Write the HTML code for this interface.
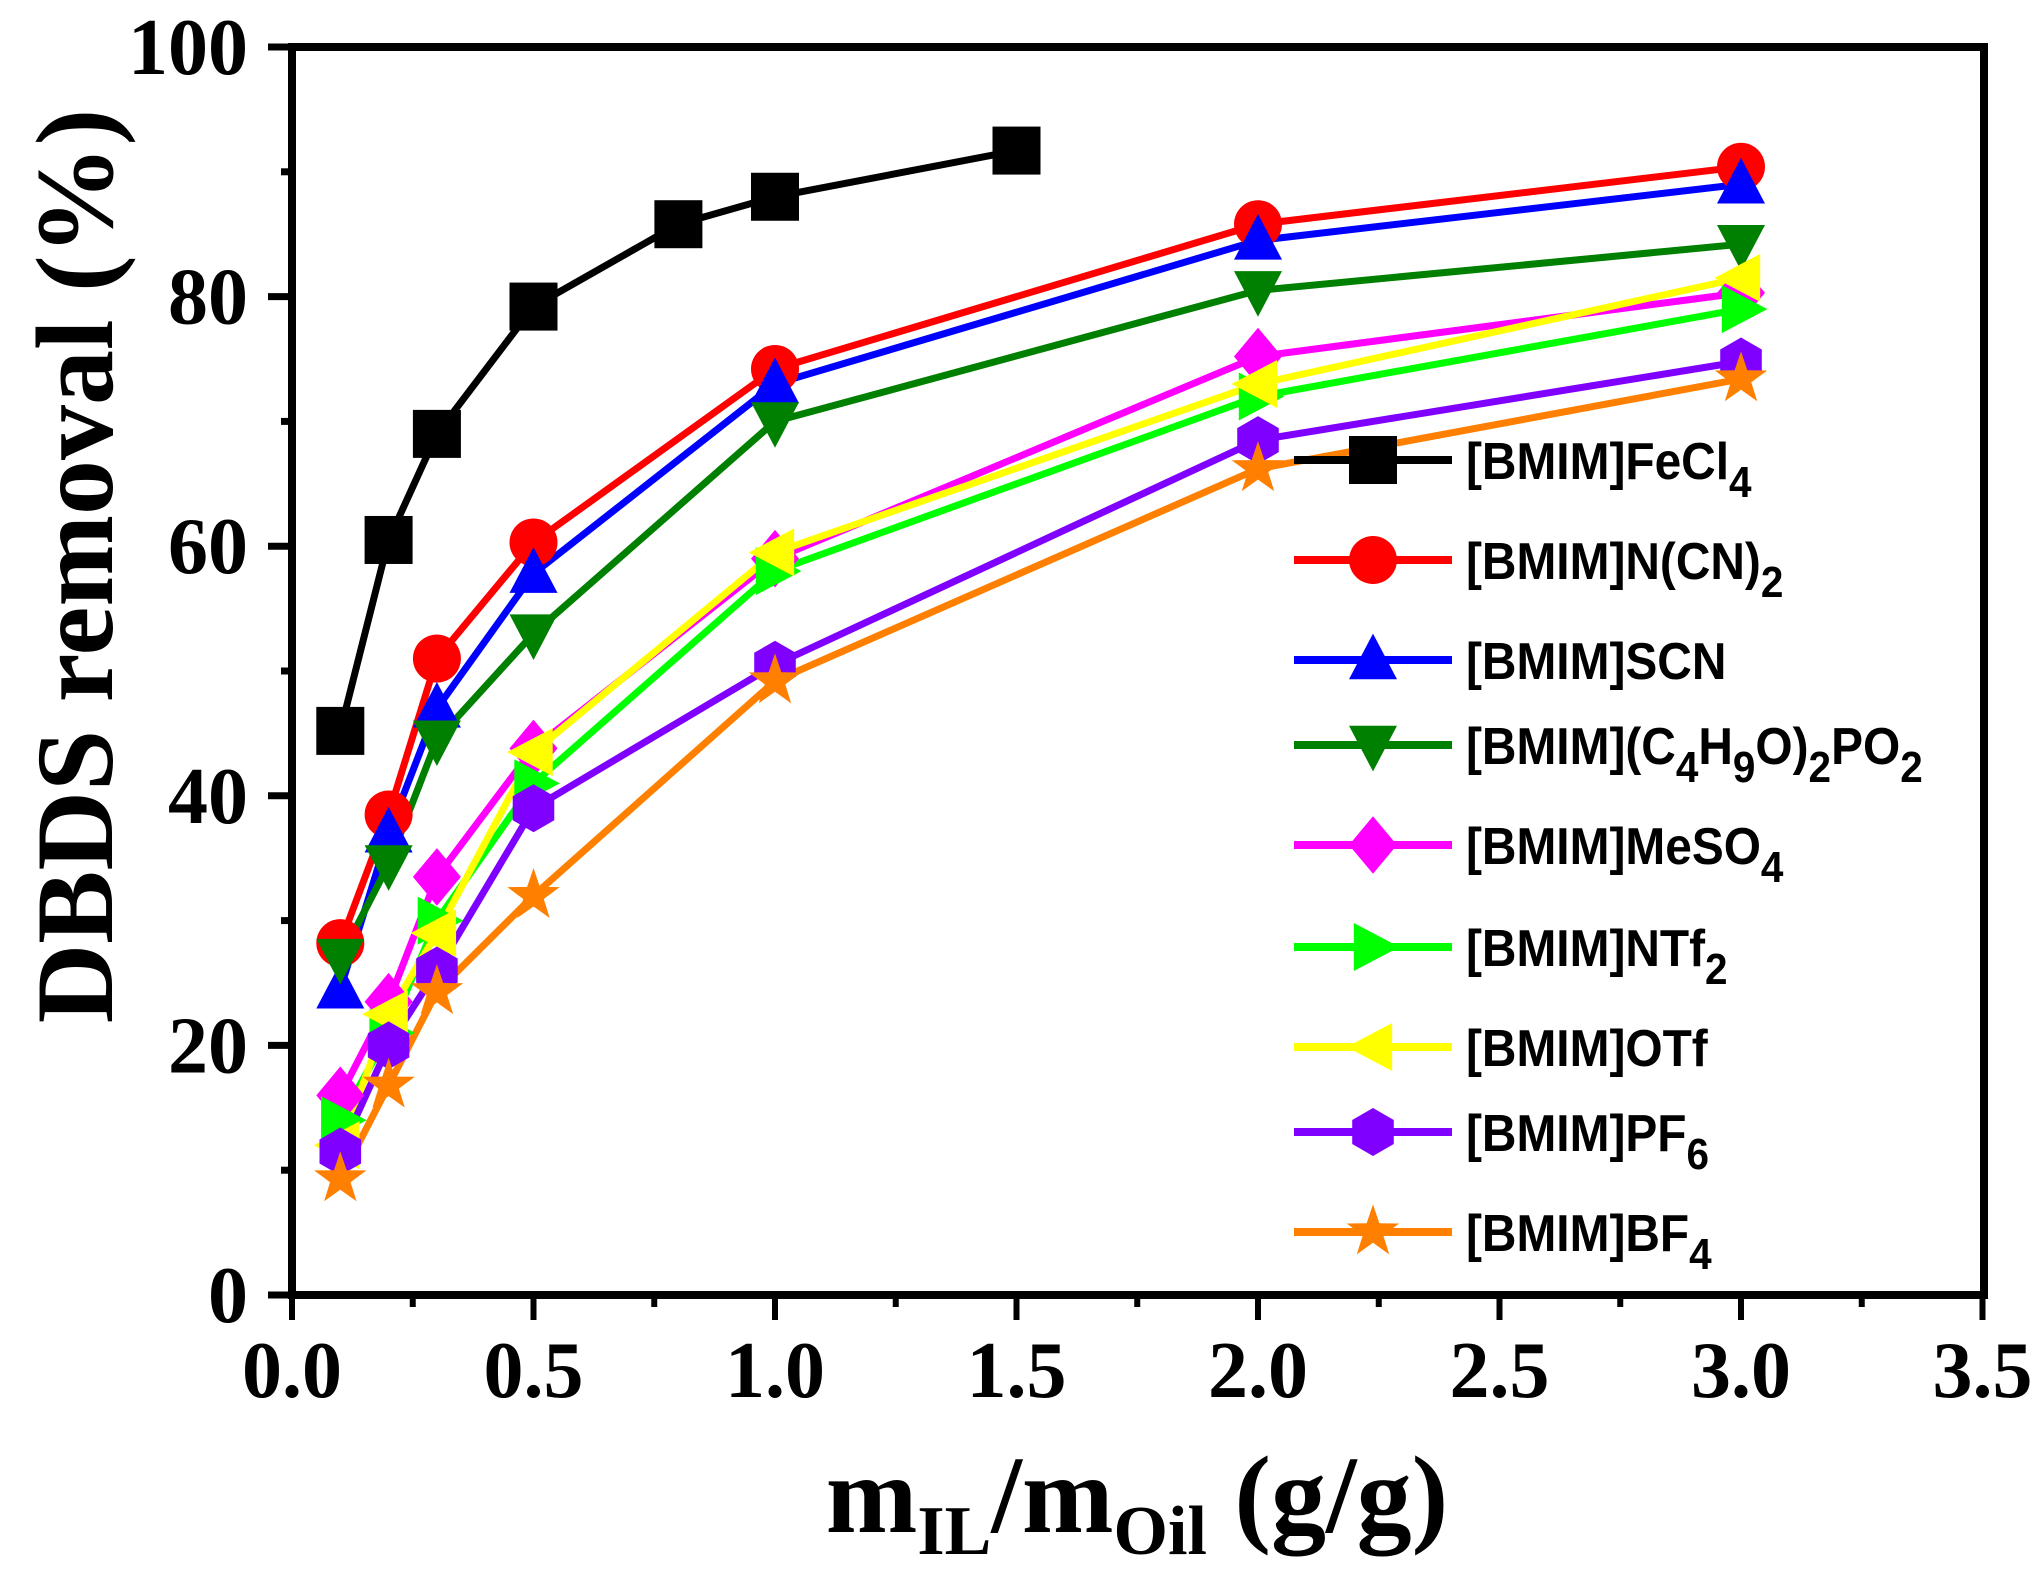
<!DOCTYPE html>
<html><head><meta charset="utf-8"><style>html,body{margin:0;padding:0;background:#fff;}svg{display:block}</style></head>
<body>
<svg id="s" width="2041" height="1590" xmlns="http://www.w3.org/2000/svg"></svg>
<script>
const X0=292,XU=483,Y0=1295,YU=12.48;
const px=x=>X0+x*XU, py=y=>Y0-y*YU;
let o='<rect width="2041" height="1590" fill="#fff"/>';
const xs=[0.1,0.2,0.3,0.5,1,2,3];
const sb=d=>`<tspan dy="18" font-size="44">${d}</tspan>`;
const up=t=>`<tspan dy="-18">${t}</tspan>`;
const S=[
 ['#000','sq',[0.1,0.2,0.3,0.5,0.8,1,1.5],[45.2,60.5,69,79.2,85.8,88,91.7],'[BMIM]FeCl'+sb(4),460],
 ['#f00','ci',xs,[28.2,38.5,51,60.3,74.2,85.8,90.4],'[BMIM]N(CN)'+sb(2),560],
 ['#00f','tu',xs,[24.5,37,47,57.8,73,84.5,89],'[BMIM]SCN',660],
 ['#008000','td',xs,[27,34.5,44.5,53,70,80.5,84.2],'[BMIM](C'+sb(4)+up('H')+sb(9)+up('O)')+sb(2)+up('PO')+sb(2),745],
 ['#f0f','di',xs,[16,23.5,33.5,43.8,59,75.2,80.3],'[BMIM]MeSO'+sb(4),845],
 ['#0f0','tr',xs,[14,21,30,41,58,72,79],'[BMIM]NTf'+sb(2),947],
 ['#ff0','tl',xs,[12,22.5,29,43.5,59.5,73,81.5],'[BMIM]OTf',1047],
 ['#8000ff','hx',xs,[11.5,20,26,39,50.5,68.5,74.8],'[BMIM]PF'+sb(6),1132],
 ['#ff8000','st',xs,[9.3,16.8,24.3,32,49.2,66.2,73.4],'[BMIM]BF'+sb(4),1232]
];
function mk(t,x,y,c){const r=24;let p;
 if(t=='sq')return `<rect x="${x-r}" y="${y-r}" width="${2*r}" height="${2*r}" fill="${c}"/>`;
 if(t=='ci')return `<circle cx="${x}" cy="${y}" r="${r}" fill="${c}"/>`;
 if(t=='tu')p=[[0,-r*1.1],[r,r*0.8],[-r,r*0.8]];
 if(t=='td')p=[[0,r*1.1],[r,-r*0.8],[-r,-r*0.8]];
 if(t=='tr')p=[[r*1.1,0],[-r*0.8,r],[-r*0.8,-r]];
 if(t=='tl')p=[[-r*1.1,0],[r*0.8,r],[r*0.8,-r]];
 if(t=='di')p=[[0,-r*1.2],[r,0],[0,r*1.2],[-r,0]];
 if(t=='hx'){p=[];for(let i=0;i<6;i++){const a=Math.PI/3*i+Math.PI/6;p.push([r*Math.cos(a),r*Math.sin(a)])}}
 if(t=='st'){p=[];for(let i=0;i<10;i++){const a=-Math.PI/2+Math.PI/5*i,rr=i%2?r*0.45:r*1.15;p.push([rr*Math.cos(a),rr*Math.sin(a)])}}
 return `<polygon points="${p.map(q=>(x+q[0])+','+(y+q[1])).join(' ')}" fill="${c}"/>`;}
for(const s of S){
 o+=`<polyline fill="none" stroke="${s[0]}" stroke-width="7" stroke-linejoin="round" points="${s[2].map((x,i)=>px(x)+','+py(s[3][i])).join(' ')}"/>`;
}
for(const s of S){s[2].forEach((x,i)=>o+=mk(s[1],px(x),py(s[3][i]),s[0]));}
for(const s of S){
 o+=`<line x1="1294" y1="${s[5]}" x2="1452" y2="${s[5]}" stroke="${s[0]}" stroke-width="8"/>`+mk(s[1],1373,s[5],s[0]);
 o+=`<text x="1466" y="${s[5]+19}" font-family="Liberation Sans,Arial,sans-serif" font-weight="bold" font-size="52" transform="translate(1466 0) scale(0.92 1) translate(-1466 0)">${s[4]}</text>`;
}
o+=`<rect x="${X0}" y="47" width="${1984-X0}" height="${Y0-47}" fill="none" stroke="#000" stroke-width="8"/>`;
for(let v=0;v<=100;v+=10){const y=py(v),maj=v%20==0;
 o+=`<line x1="${maj?268:281}" y1="${y}" x2="${X0}" y2="${y}" stroke="#000" stroke-width="7"/>`;
 if(maj)o+=`<text x="248" y="${y+27}" text-anchor="end" font-family="Liberation Serif,serif" font-weight="bold" font-size="80">${v}</text>`;}
for(let v=0;v<=3.5001;v+=0.25){const x=px(v),maj=Math.abs(v*2-Math.round(v*2))<1e-6;
 o+=`<line x1="${x}" y1="${Y0}" x2="${x}" y2="${Y0+(maj?25:12)}" stroke="#000" stroke-width="6"/>`;
 if(maj)o+=`<text x="${x}" y="1397" text-anchor="middle" font-family="Liberation Serif,serif" font-weight="bold" font-size="80">${v.toFixed(1)}</text>`;}
o+=`<text transform="translate(112 566) rotate(-90)" text-anchor="middle" font-family="Liberation Serif,serif" font-weight="bold" font-size="110">DBDS removal (%)</text>`;
o+=`<text x="1137" y="1532" text-anchor="middle" font-family="Liberation Serif,serif" font-weight="bold" font-size="110">m<tspan font-size="70" dy="22">IL</tspan><tspan dy="-22">/m</tspan><tspan font-size="70" dy="22">Oil</tspan><tspan dy="-22"> (g/g)</tspan></text>`;
document.getElementById('s').innerHTML=o;
</script>
</body></html>
